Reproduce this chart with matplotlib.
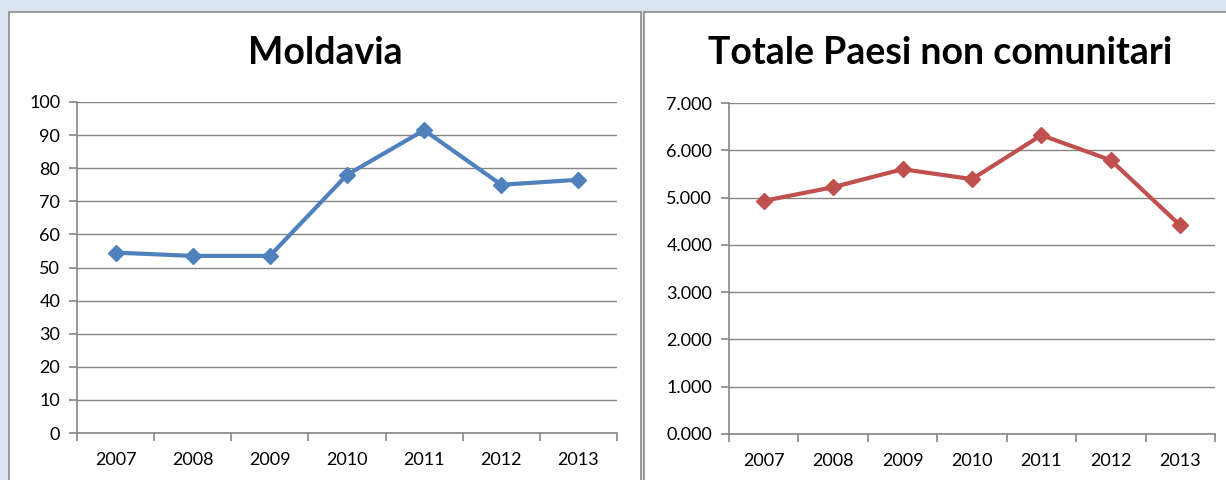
import matplotlib
matplotlib.use("Agg")
import matplotlib.pyplot as plt
from matplotlib.patches import Rectangle
from matplotlib.ticker import FixedLocator, FuncFormatter

anni = ["2007", "2008", "2009", "2010", "2011", "2012", "2013"]
moldavia = [54.5, 53.5, 53.5, 78.0, 91.5, 75.0, 76.5]
totale_non_ue = [4.93, 5.22, 5.60, 5.39, 6.32, 5.79, 4.41]

blu = "#4f81bd"
rosso = "#c0504d"
grigio = "#868686"
sfondo = "#dbe5f1"

plt.rcParams["font.family"] = ["Lato", "DejaVu Sans"]

W, H = 1226, 480
fig = plt.figure(figsize=(W / 100, H / 100), dpi=100)
fig.patch.set_facecolor(sfondo)

# pannelli bianchi dei due grafici
for x0, x1 in [(9, 641), (644, 1240)]:
    fig.patches.append(Rectangle((x0 / W, -0.1), (x1 - x0) / W, 1.1 - 12 / H,
                                 transform=fig.transFigure, facecolor="white",
                                 edgecolor="#8c8c8c", linewidth=1.2, zorder=0))


def grafico(rect, valori, colore, ymax, passo, fmt, titolo, tx):
    ax = fig.add_axes(rect)
    ax.set_zorder(2)
    n = len(anni)
    ax.plot(range(n), valori, color=colore, linewidth=3.0, marker="D",
            markersize=8.5, zorder=3, clip_on=False)
    ax.set_xlim(-0.5, n - 0.5)
    ax.set_ylim(0, ymax)
    ax.patch.set_alpha(0)
    for s in ["top", "right"]:
        ax.spines[s].set_visible(False)
    for s in ["left", "bottom"]:
        ax.spines[s].set_color(grigio)
        ax.spines[s].set_linewidth(1.2)
    yt = [i * passo for i in range(int(round(ymax / passo)) + 1)]
    ax.set_yticks(yt)
    ax.yaxis.set_major_formatter(FuncFormatter(fmt))
    ax.grid(axis="y", color=grigio, linewidth=1.0)
    ax.set_axisbelow(True)
    # etichette al centro, tacche ai confini delle categorie
    ax.xaxis.set_major_locator(FixedLocator([i - 0.5 for i in range(n + 1)]))
    ax.xaxis.set_major_formatter(FuncFormatter(lambda v, p: ""))
    ax.set_xticks(range(n), anni, minor=True)
    ax.tick_params(axis="x", which="major", length=6, color=grigio, width=1.2)
    ax.tick_params(axis="x", which="minor", length=0, pad=14, labelsize=13)
    ax.tick_params(axis="y", length=6, color=grigio, width=1.2, labelsize=13, pad=6)
    fig.text(tx / W, 1 - 53 / H, titolo, ha="center", va="center",
             fontsize=27, fontweight="bold")
    return ax


grafico([77 / W, 1 - 433 / H, 540 / W, 331 / H], moldavia, blu, 100, 10,
        lambda v, p: f"{v:.0f}", "Moldavia", 325)
grafico([729 / W, 1 - 434 / H, 486 / W, 331 / H], totale_non_ue, rosso, 7, 1,
        lambda v, p: f"{v:.3f}", "Totale Paesi non comunitari", 940)

fig.savefig("out.png", dpi=100, facecolor=sfondo)
